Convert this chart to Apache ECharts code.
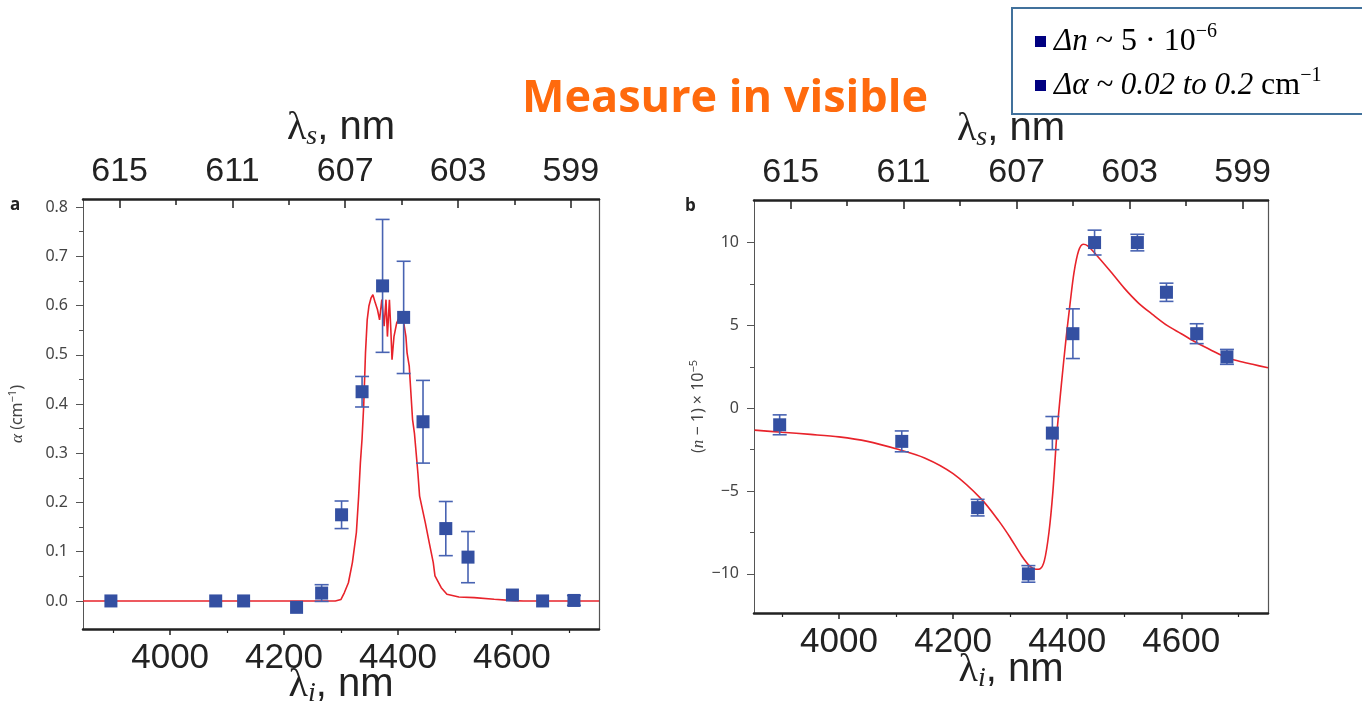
<!DOCTYPE html>
<html>
<head>
<meta charset="utf-8">
<script src="https://cdn.jsdelivr.net/npm/echarts@6/dist/echarts.min.js"></script>
<style>
  html, body { margin: 0; padding: 0; background: #fff; }
  #chart { width: 1362px; height: 709px; }
</style>
</head>
<body>
<div id="chart"></div>
<script>
// panel a: absorption, measured points
var alphaLambda = [3896, 4080, 4129, 4222, 4266, 4301, 4337, 4373, 4410, 4444, 4484, 4523, 4601, 4654, 4709]
var alphaValue = [0.000, 0.000, 0.000, -0.013, 0.016, 0.175, 0.425, 0.640, 0.576, 0.364, 0.147, 0.089, 0.012, 0.000, 0.001]
var alphaErr = [0, 0, 0, 0, 0.017, 0.028, 0.031, 0.135, 0.114, 0.084, 0.055, 0.052, 0, 0, 0.01]

// panel a: absorption curve (red)
var alphaCurveLambda = [3847, 4290, 4300, 4306, 4313, 4320, 4327, 4331, 4334, 4337, 4340, 4343, 4346, 4349, 4352.6, 4356, 4360, 4364, 4367.7, 4371.7, 4375.7, 4379, 4381.5, 4385, 4387.5, 4389.6, 4393, 4397.8, 4403.5, 4409.3, 4414, 4416, 4419.8, 4422, 4425.6, 4429, 4432, 4435, 4438, 4448, 4455, 4462, 4465, 4476, 4486, 4507, 4534, 4569, 4603, 4620, 4753]
var alphaCurveValue = [0, 0, 0.003, 0.017, 0.037, 0.078, 0.139, 0.213, 0.28, 0.33, 0.40, 0.504, 0.571, 0.599, 0.615, 0.622, 0.606, 0.592, 0.571, 0.612, 0.558, 0.612, 0.537, 0.612, 0.551, 0.49, 0.537, 0.565, 0.578, 0.571, 0.537, 0.504, 0.477, 0.436, 0.369, 0.34, 0.30, 0.26, 0.213, 0.159, 0.118, 0.078, 0.051, 0.027, 0.0135, 0.008, 0.0068, 0.0034, 0.0007, 0, 0]

// panel b: refractive index, measured points
var nLambda = [3896, 4110, 4243, 4332, 4374, 4410, 4448, 4523, 4574, 4627, 4680]
var nValue = [-1.0, -2.0, -6.0, -10.0, -1.5, 4.5, 10.0, 10.0, 7.0, 4.5, 3.1]
var nErr = [0.6, 0.63, 0.5, 0.5, 1.0, 1.5, 0.75, 0.5, 0.55, 0.6, 0.45]

// panel b: dispersion curve (red)
var nCurveLambda = [3852, 3900, 3950, 4000, 4050, 4100, 4150, 4200, 4250, 4280, 4300, 4320, 4335, 4345, 4352, 4360, 4368, 4375, 4382, 4390, 4398, 4405, 4412, 4420, 4428, 4436, 4450, 4475, 4500, 4525, 4550, 4575, 4600, 4627, 4650, 4680, 4700, 4725, 4752]
var nCurveValue = [-1.32, -1.45, -1.58, -1.73, -2.0, -2.45, -3.0, -3.95, -5.5, -6.8, -7.8, -8.9, -9.55, -9.72, -9.7, -9.2, -7.5, -5.0, -1.5, 1.5, 4.2, 6.3, 8.2, 9.5, 9.9, 9.8, 9.3, 8.3, 7.25, 6.35, 5.65, 5.0, 4.5, 3.95, 3.55, 3.05, 2.85, 2.65, 2.44]

// axis ticks / labels
var lambdaILabels = [4000, 4200, 4400, 4600]
var lambdaIMinor = [3900, 4100, 4300, 4500, 4700]
var lambdaSLabels = [615, 611, 607, 603, 599]
var lambdaSMinor = [613, 609, 605, 601]
var alphaTicks = [0, 0.1, 0.2, 0.3, 0.4, 0.5, 0.6, 0.7, 0.8]
var alphaMinor = [0.05, 0.15, 0.25, 0.35, 0.45, 0.55, 0.65, 0.75]
var nTicks = [-10, -5, 0, 5, 10]
var nMinor = [-7.5, -2.5, 2.5, 7.5]

var RED = '#E8232B'
var BLUE = '#3450A2'
var BAR = '#4863B2'

function zip (a, b) {
  return a.map(function (v, i) { return [v, b[i]] })
}
function errData (xs, ys, es) {
  var out = []
  xs.forEach(function (x, i) {
    if (es[i] > 0) out.push([x, ys[i] - es[i], ys[i] + es[i]])
  })
  return out
}
function errorBarItem (params, api) {
  var x = api.value(0)
  var lo = api.coord([x, api.value(1)])
  var hi = api.coord([x, api.value(2)])
  var cap = 7
  var st = { stroke: BAR, lineWidth: 1.6 }
  return {
    type: 'group',
    children: [
      { type: 'line', shape: { x1: hi[0], y1: hi[1], x2: lo[0], y2: lo[1] }, style: st },
      { type: 'line', shape: { x1: hi[0] - cap, y1: hi[1], x2: hi[0] + cap, y2: hi[1] }, style: st },
      { type: 'line', shape: { x1: lo[0] - cap, y1: lo[1], x2: lo[0] + cap, y2: lo[1] }, style: st }
    ]
  }
}
function plain (v) { return String(v) }

var lamRich = {
  l: { fontFamily: 'Liberation Serif', fontSize: 40, color: '#222' },
  s: { fontFamily: 'Liberation Serif', fontStyle: 'italic', fontSize: 28, color: '#222', padding: [18, 0, 0, 0] },
  t: { fontFamily: 'Liberation Sans', fontSize: 40, color: '#222' }
}

// bottom λi axes (labeled + minor ticks)
function bottomAxes (grid, min, max, gap) {
  return [{
    type: 'value', gridIndex: grid, position: 'bottom', min: min, max: max,
    name: '{l|λ}{s|i}{t|, nm}', nameLocation: 'middle', nameGap: gap, nameMoveOverlap: false,
    nameTextStyle: { rich: lamRich },
    axisLine: { show: true, onZero: false, lineStyle: { color: '#222', width: 2.5 } },
    axisTick: { show: true, customValues: lambdaILabels, length: 6, lineStyle: { color: '#222', width: 1.5 } },
    axisLabel: { customValues: lambdaILabels, formatter: plain, fontFamily: 'Liberation Sans', fontSize: 35, color: '#222', margin: 12 },
    splitLine: { show: false }
  }, {
    type: 'value', gridIndex: grid, position: 'bottom', min: min, max: max,
    axisLine: { show: false, onZero: false },
    axisTick: { show: true, customValues: lambdaIMinor, length: 4, lineStyle: { color: '#222', width: 1.2 } },
    axisLabel: { show: false },
    splitLine: { show: false }
  }]
}
// top λs axes (reversed)
function topAxes (grid, min, max) {
  return [{
    type: 'value', gridIndex: grid, position: 'top', inverse: true, min: min, max: max,
    name: '{l|λ}{s|s}{t|, nm}', nameLocation: 'middle', nameGap: 48, nameMoveOverlap: false,
    nameTextStyle: { rich: lamRich },
    axisLine: { show: true, onZero: false, lineStyle: { color: '#222', width: 2.5 } },
    axisTick: { show: true, inside: true, customValues: lambdaSLabels, length: 9, lineStyle: { color: '#222', width: 1.5 } },
    axisLabel: { customValues: lambdaSLabels, formatter: plain, fontFamily: 'Liberation Sans', fontSize: 34, color: '#222', margin: 10 },
    splitLine: { show: false }
  }, {
    type: 'value', gridIndex: grid, position: 'top', inverse: true, min: min, max: max,
    axisLine: { show: false, onZero: false },
    axisTick: { show: true, inside: true, customValues: lambdaSMinor, length: 6, lineStyle: { color: '#222', width: 1.5 } },
    axisLabel: { show: false },
    splitLine: { show: false }
  }]
}
function leftAxes (grid, min, max, ticks, minor, fmt, name, gap) {
  return [{
    type: 'value', gridIndex: grid, position: 'left', min: min, max: max,
    name: name, nameLocation: 'middle', nameGap: gap, nameRotate: 90, nameMoveOverlap: false,
    nameTextStyle: {
      fontFamily: 'Noto Sans', fontSize: 16, color: '#444',
      rich: {
        i: { fontFamily: 'Liberation Serif', fontStyle: 'italic', fontSize: 17, color: '#444' },
        p: { fontFamily: 'Noto Sans', fontSize: 11, color: '#444', padding: [0, 0, 10, 0] }
      }
    },
    axisLine: { show: true, onZero: false, lineStyle: { color: '#555', width: 1 } },
    axisTick: { show: true, customValues: ticks, length: 7, lineStyle: { color: '#555', width: 1 } },
    axisLabel: { customValues: ticks, formatter: fmt, fontFamily: 'Noto Sans', fontSize: 16, color: '#444', margin: 15 },
    splitLine: { show: false }
  }, {
    type: 'value', gridIndex: grid, position: 'left', min: min, max: max,
    axisLine: { show: false, onZero: false },
    axisTick: { show: true, customValues: minor, length: 4, lineStyle: { color: '#555', width: 1 } },
    axisLabel: { show: false },
    splitLine: { show: false }
  }, {
    type: 'value', gridIndex: grid, position: 'right', min: min, max: max,
    axisLine: { show: true, onZero: false, lineStyle: { color: '#555', width: 1.2 } },
    axisTick: { show: false },
    axisLabel: { show: false },
    splitLine: { show: false }
  }]
}

var xAxes = [].concat(
  bottomAxes(0, 3847, 4753, 33), topAxes(0, 598.0, 616.3),
  bottomAxes(1, 3851, 4752, 34), topAxes(1, 598.1, 616.3)
)
var yAxes = [].concat(
  leftAxes(0, -0.057, 0.8165, alphaTicks, alphaMinor, function (v) { return v.toFixed(1) },
    '{i|α} (cm{p|−1})', 55),
  leftAxes(1, -12.36, 12.57, nTicks, nMinor, function (v) { return v < 0 ? '−' + Math.abs(v) : String(v) },
    '({i|n} − 1) × 10{p|−5}', 45)
)

var legendRich = {
  i: { fontFamily: 'Liberation Serif', fontStyle: 'italic', fontSize: 31 },
  p: { fontFamily: 'Liberation Serif', fontSize: 20, padding: [0, 0, 20, 0] }
}

var chart = echarts.init(document.getElementById('chart'))
var option = {
  animation: false,
  title: {
    text: 'Measure in visible',
    left: 517, top: 72,
    textStyle: { fontFamily: 'Open Sans', fontWeight: 'bold', fontSize: 45, color: '#FF6A0D' }
  },
  grid: [
    { left: 83, top: 199, width: 516, height: 430, outerBoundsMode: 'none', containLabel: false },
    { left: 754, top: 200, width: 514, height: 413, outerBoundsMode: 'none', containLabel: false }
  ],
  xAxis: xAxes,
  yAxis: yAxes,
  series: [
    {
      type: 'line', xAxisIndex: 0, yAxisIndex: 0, data: zip(alphaCurveLambda, alphaCurveValue),
      showSymbol: false, lineStyle: { color: RED, width: 1.6 }, z: 2
    },
    {
      type: 'custom', xAxisIndex: 0, yAxisIndex: 0, data: errData(alphaLambda, alphaValue, alphaErr),
      renderItem: errorBarItem, encode: { x: 0, y: [1, 2] }, z: 3
    },
    {
      type: 'scatter', xAxisIndex: 0, yAxisIndex: 0, data: zip(alphaLambda, alphaValue),
      symbol: 'rect', symbolSize: 13, itemStyle: { color: BLUE, opacity: 1 }, z: 4
    },
    {
      type: 'line', xAxisIndex: 4, yAxisIndex: 3, data: zip(nCurveLambda, nCurveValue),
      showSymbol: false, smooth: 0.3, lineStyle: { color: RED, width: 1.6 }, z: 2
    },
    {
      type: 'custom', xAxisIndex: 4, yAxisIndex: 3, data: errData(nLambda, nValue, nErr),
      renderItem: errorBarItem, encode: { x: 0, y: [1, 2] }, z: 3
    },
    {
      type: 'scatter', xAxisIndex: 4, yAxisIndex: 3, data: zip(nLambda, nValue),
      symbol: 'rect', symbolSize: 13, itemStyle: { color: BLUE, opacity: 1 }, z: 4
    }
  ],
  graphic: [
    { type: 'text', left: 10, top: 197, style: { text: 'a', font: 'bold 17px "Open Sans"', fill: '#222' } },
    { type: 'text', left: 685, top: 198, style: { text: 'b', font: 'bold 17px "Open Sans"', fill: '#222' } },
    {
      type: 'group', left: 1011, top: 7,
      children: [
        { type: 'rect', shape: { x: 0, y: 0, width: 360, height: 106 }, style: { fill: '#fff', stroke: '#41719C', lineWidth: 2 } },
        { type: 'rect', shape: { x: 23, y: 28, width: 11, height: 11 }, style: { fill: '#000080' } },
        { type: 'rect', shape: { x: 23, y: 72, width: 11, height: 11 }, style: { fill: '#000080' } },
        {
          type: 'text', x: 42, y: 34, style: {
            text: '{i|Δn} ~ 5 · 10{p|−6}', verticalAlign: 'middle',
            font: '32px "Liberation Serif"', fill: '#000', rich: legendRich
          }
        },
        {
          type: 'text', x: 42, y: 78, style: {
            text: '{i|Δα ~ 0.02 to 0.2 }cm{p|−1}', verticalAlign: 'middle',
            font: '32px "Liberation Serif"', fill: '#000', rich: legendRich
          }
        }
      ]
    }
  ]
}
chart.setOption(option)
</script>
</body>
</html>
